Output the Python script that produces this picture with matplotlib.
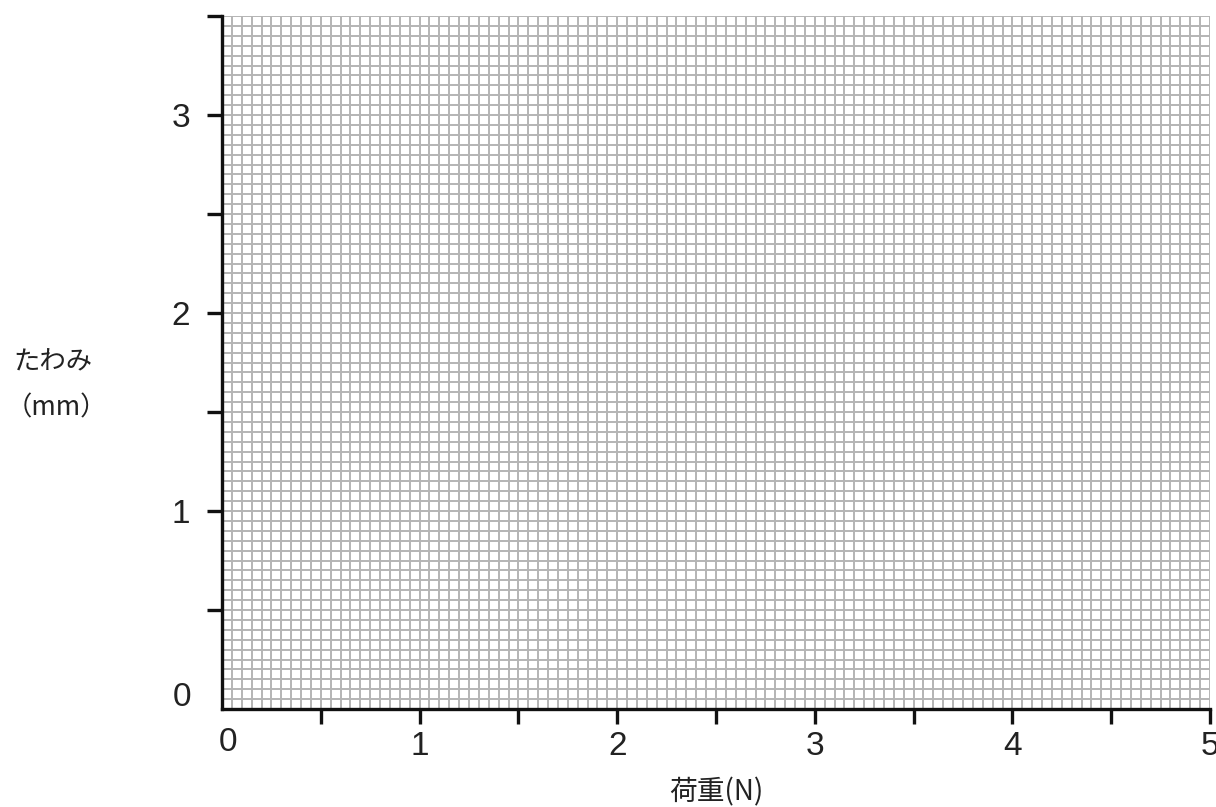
import numpy as np
import matplotlib
matplotlib.use("Agg")
import matplotlib.pyplot as plt

# Axis definitions (no data series in the reference, an empty graph-paper chart)
x_major = [1, 2, 3, 4, 5]
x_minor = [0.5, 1.5, 2.5, 3.5, 4.5]
y_major = [1, 2, 3]
y_minor = [0.5, 1.5, 2.5, 3.5]
x_labels = ["1", "2", "3", "4", "5"]
y_labels = ["1", "2", "3"]
x_limits = (0, 5)
y_limits = (0, 3.5)
grid_step = 0.05
xlabel_text = "荷重(N)"
ylabel_lines = ["たわみ", "（mm）"]

fig = plt.figure(figsize=(12.16, 8.07), dpi=100)
ax = fig.add_axes([222/1216, 1 - 709/807, (1210-222)/1216, (709-16)/807])
ax.set_xlim(*x_limits)
ax.set_ylim(*y_limits)

gx = np.arange(x_limits[0], x_limits[1] + 1e-9, grid_step)
gy = np.arange(y_limits[0], y_limits[1] + 1e-9, grid_step)
ax.vlines(gx, y_limits[0], y_limits[1], colors="#b4b4b4", linewidth=1.4, zorder=1)
ax.hlines(gy, x_limits[0], x_limits[1], colors="#b4b4b4", linewidth=1.4, zorder=1)

for side in ["top", "right"]:
    ax.spines[side].set_visible(False)
for side in ["left", "bottom"]:
    ax.spines[side].set_linewidth(2.4)
    ax.spines[side].set_color("#111111")
    ax.spines[side].set_zorder(3)

tickfont = dict(family=["Liberation Sans", "DejaVu Sans"], size=24, color="#222222")
ax.set_xticks(x_major)
ax.set_xticklabels(x_labels, fontdict=tickfont)
ax.set_xticks(x_minor, minor=True)
ax.set_yticks(y_major)
ax.set_yticklabels(y_labels, fontdict=tickfont)
ax.set_yticks(y_minor, minor=True)
ax.tick_params(which="both", direction="out", length=11, width=2.4, color="#111111")
ax.tick_params(axis="x", which="major", pad=5)
ax.tick_params(axis="y", which="major", pad=12)

# "0" labels at the origin (no tick drawn there)
ax.text(0.03, -0.17, "0", ha="center", va="center", clip_on=False, **tickfont)
ax.text(-0.2, 0.06, "0", ha="center", va="center", clip_on=False, **tickfont)

jp = ["Noto Sans CJK JP", "DejaVu Sans"]
fig.text(716/1216, 1 - 792/807, xlabel_text, ha="center", va="center",
         family=jp, size=20, color="#222222")
fig.text(13/1216, 1 - 362/807, ylabel_lines[0], ha="left", va="center",
         family=jp, size=19, color="#222222")
fig.text(6/1216, 1 - 408/807, ylabel_lines[1], ha="left", va="center",
         family=jp, size=19, color="#222222")

fig.savefig("out.png", dpi=100)
